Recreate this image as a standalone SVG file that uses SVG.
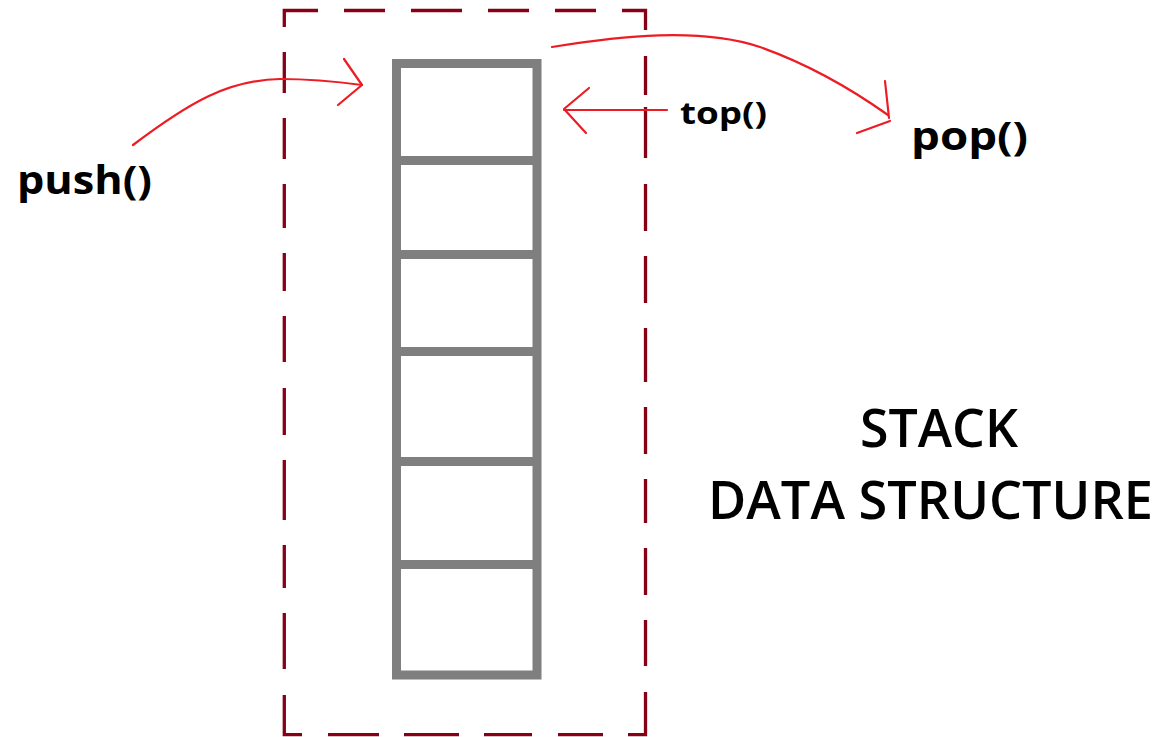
<svg xmlns="http://www.w3.org/2000/svg" width="1161" height="737" viewBox="0 0 1161 737">
<style>
.frame{fill:none;stroke:#880015;stroke-width:3.3;stroke-linecap:butt}
.cell{fill:none;stroke:#7f7f7f;stroke-width:9}
.arrow{fill:none;stroke:#ed1c24;stroke-width:2.2;stroke-linecap:round;stroke-linejoin:round}
.lbl{font-family:"Open Sans","Liberation Sans",sans-serif;fill:#000}
</style>
<rect width="1161" height="737" fill="#fff"/>
<g id="frame">
<path class="frame" d="M284.3,27 L284.3,10.5 L318,10.5 M344,10.5 L385,10.5 M411,10.5 L462,10.5 M488,10.5 L529,10.5 M555,10.5 L596,10.5 M622,10.5 L645.5,10.5 L645.5,30
M645.5,56 L645.5,95 M645.5,107 L645.5,158 M645.5,184 L645.5,231 M645.5,256 L645.5,303 M645.5,328 L645.5,382 M645.5,407 L645.5,454 M645.5,479 L645.5,523 M645.5,548 L645.5,595 M645.5,620 L645.5,666 M645.5,692 L645.5,734.7 L628,734.7
M603,734.7 L558,734.7 M532,734.7 L484,734.7 M459,734.7 L404,734.7 M379,734.7 L328,734.7 M302,734.7 L284.3,734.7 L284.3,695
M284.3,669 L284.3,613 M284.3,588 L284.3,545 M284.3,520 L284.3,460 M284.3,435 L284.3,388 M284.3,362 L284.3,316 M284.3,291 L284.3,253 M284.3,228 L284.3,184 M284.3,159 L284.3,118 M284.3,93 L284.3,52"/>
</g>
<g id="stack">
<rect class="cell" x="396.5" y="63.5" width="140.5" height="611.5"/>
<path class="cell" d="M396.5,160.5 H537 M396.5,254.5 H537 M396.5,351.5 H537 M396.5,461.5 H537 M396.5,564.5 H537"/>
</g>
<g id="connectors">
<path class="arrow" d="M133,145 C190,102 228,80 280,79 C315,79 340,82 362,85"/>
<path class="arrow" d="M344,59 L362,85 L338,105"/>
<path class="arrow" d="M552,47 C620,36 700,27 760,47 C805,63 850,88 888,115"/>
<path class="arrow" d="M885,81 L889,118 M857,133 L890,121"/>
<path class="arrow" d="M667,110 L564,110"/>
<path class="arrow" d="M589,88 L564,109 L586,133"/>
</g>
<g id="push">
<text class="lbl" x="17" y="194" font-size="40" font-weight="700" textLength="135" lengthAdjust="spacingAndGlyphs">push()</text>
</g>
<g id="top">
<text class="lbl" x="680" y="124" font-size="31" font-weight="700" textLength="87" lengthAdjust="spacingAndGlyphs">top()</text>
</g>
<g id="pop">
<text class="lbl" x="911" y="150" font-size="40" font-weight="700" textLength="117" lengthAdjust="spacingAndGlyphs">pop()</text>
</g>
<g id="title">
<text class="lbl" x="860" y="447" font-size="52" font-weight="600" textLength="158" lengthAdjust="spacingAndGlyphs">STACK</text>
<text class="lbl" x="708" y="519" font-size="52" font-weight="600" textLength="445" lengthAdjust="spacingAndGlyphs">DATA STRUCTURE</text>
</g>
</svg>
